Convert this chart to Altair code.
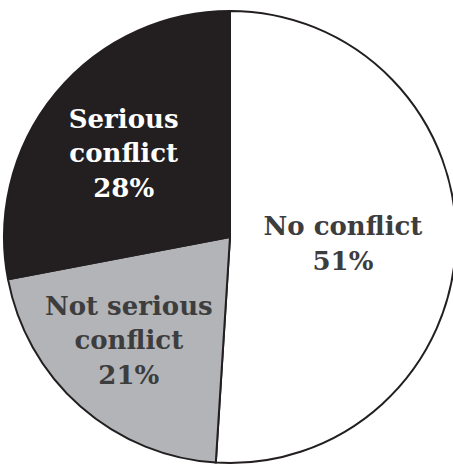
import altair as alt
import pandas as pd

categories = ["No conflict", "Not serious conflict", "Serious conflict"]
values = [51, 21, 28]
labels = ["No conflict\n51%", "Not serious\nconflict\n21%", "Serious\nconflict\n28%"]
order = [0, 1, 2]

df = pd.DataFrame({"category": categories, "value": values, "label": labels, "order": order})

CX, CY, R = 230, 237, 226
LH = 34.5
fills = ["#ffffff", "#b3b4b8", "#231f20"]

theta_scale = alt.Scale(domain=[0, 100])

arc = alt.Chart(df).mark_arc(outerRadius=R, stroke="#231f20", strokeWidth=2).encode(
    theta=alt.Theta("value:Q", stack=True, scale=theta_scale),
    color=alt.Color("category:N", scale=alt.Scale(domain=categories, range=fills), legend=None),
    order=alt.Order("order:Q"),
    x=alt.value(CX),
    y=alt.value(CY),
)

# (category, radius, text colour, number of lines, dx, extra dy)
label_specs = [
    ("No conflict", 113, "#3d3d3d", 2, 0, 4),
    ("Not serious conflict", 147, "#3d3d3d", 3, -4, -6),
    ("Serious conflict", 138, "#ffffff", 3, 0, 5),
]

layers = [arc]
for cat, rad, col, nlines, ddx, ddy in label_specs:
    t = (
        alt.Chart(df)
        .transform_window(cum="sum(value)", sort=[alt.SortField("order")], frame=[None, 0])
        .transform_calculate(mid="datum.cum - datum.value / 2")
        .transform_filter(alt.datum.category == cat)
        .mark_text(
            radius=rad,
            font="DejaVu Serif",
            fontWeight="bold",
            fontSize=26,
            lineBreak="\n",
            lineHeight=LH,
            align="center",
            baseline="middle",
            dx=ddx,
            dy=-(nlines - 1) * LH / 2 + ddy,
            color=col,
        )
        .encode(
            text="label:N",
            theta=alt.Theta("mid:Q", scale=theta_scale),
            x=alt.value(CX),
            y=alt.value(CY),
        )
    )
    layers.append(t)

chart = (
    alt.layer(*layers)
    .properties(width=453, height=471, autosize=alt.AutoSizeParams(type="none"), padding=0, background="white")
    .configure_view(stroke=None)
)

chart.save("out.html", embed_options={"renderer": "svg", "actions": False})
